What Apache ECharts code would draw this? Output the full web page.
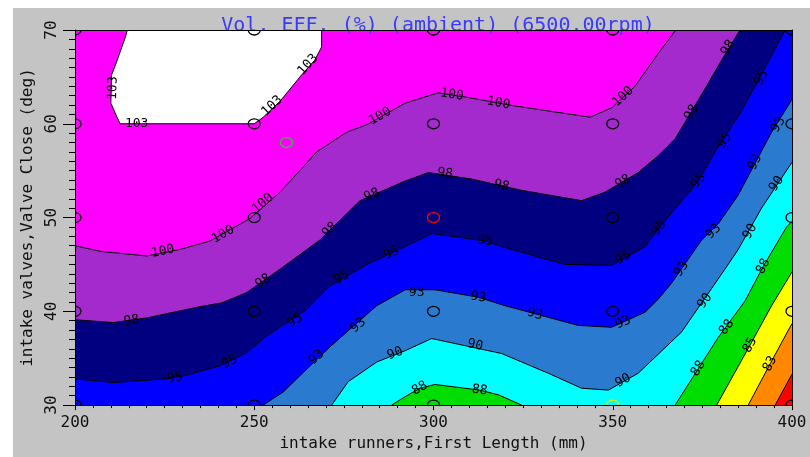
<!DOCTYPE html>
<html>
<head>
<meta charset="utf-8">
<script src="https://cdn.jsdelivr.net/npm/echarts@6/dist/echarts.min.js"></script>
<style>
  html, body { margin: 0; padding: 0; background: #fff; }
  #chart { width: 810px; height: 457px; }
</style>
</head>
<body>
<div id="chart"></div>
<script>
// contour lines, [runner length mm, valve close deg]
const line103 = [[214.6, 70], [214.1, 69.3], [211.6, 66.6], [210.2, 65.2], [210.0, 62.2], [211.6, 60.8], [212.6, 60.0], [250.0, 60.0], [252.5, 60.7], [257.2, 62.4], [263.2, 65.2], [266.9, 66.8], [268.8, 68.2], [268.8, 70]];
const line100 = [[200, 47.0], [207.0, 46.4], [220.0, 45.9], [229.3, 46.6], [237.7, 47.5], [248.8, 49.9], [257.2, 52.7], [263.2, 55.2], [267.4, 57.0], [275.8, 59.1], [281.4, 59.9], [292.1, 62.2], [301.3, 63.3], [309.7, 62.8], [322.7, 61.9], [343.7, 60.7], [349.7, 61.7], [356.2, 64.0], [362.7, 67.5], [367.6, 70]];
const line98 = [[200, 39.1], [210.7, 38.8], [220.0, 39.3], [234.9, 40.5], [240.9, 40.9], [247.9, 42.0], [257.2, 44.5], [268.3, 47.6], [279.5, 51.8], [292.1, 53.9], [298.6, 54.8], [310.7, 54.1], [324.6, 52.9], [341.3, 51.8], [347.8, 52.7], [357.1, 54.8], [362.7, 56.6], [367.4, 58.4], [375.7, 63.7], [380.4, 66.8], [385.5, 70]];
const line95 = [[200, 32.8], [210.7, 32.4], [225.6, 32.8], [231.2, 33.2], [240.4, 34.2], [247.9, 35.6], [253.5, 37.4], [259.1, 38.8], [264.6, 40.2], [271.1, 42.7], [281.4, 45.0], [292.1, 46.9], [299.5, 48.3], [314.4, 47.5], [319.9, 46.8], [336.7, 45.0], [349.7, 44.9], [359.0, 46.9], [363.6, 49.2], [373.9, 53.9], [378.5, 57.0], [385.0, 60.8], [389.7, 64.0], [398.1, 70]];
const line93 = [[252.5, 30], [258.1, 31.4], [265.6, 34.2], [271.1, 36.2], [276.7, 38.1], [284.2, 40.6], [292.1, 42.3], [300.4, 42.3], [312.5, 41.5], [319.9, 40.6], [340.4, 38.5], [349.7, 38.3], [359.0, 39.9], [362.7, 41.3], [366.4, 43.0], [374.8, 47.6], [379.4, 49.3], [385.0, 52.4], [394.3, 59.1], [400, 62.6]];
const line90 = [[271.6, 30], [276.2, 32.5], [284.2, 34.6], [292.1, 35.8], [299.5, 37.1], [319.0, 35.5], [332.0, 33.4], [341.3, 31.8], [348.8, 31.6], [357.1, 33.4], [361.8, 35.1], [369.2, 37.8], [381.3, 44.5], [385.0, 46.6], [391.5, 51.0], [400, 55.9]];
const line88a = [[288.3, 30], [292.1, 30.9], [296.2, 31.8], [300.4, 32.2], [312.9, 31.6], [318.1, 31.1], [324.6, 30]];
const line88b = [[367.4, 30], [373.9, 33.9], [379.4, 37.2], [386.9, 41.1], [392.0, 44.8], [398.5, 49.0], [400, 49.6]];
const line85 = [[379.0, 30], [388.3, 36.4], [394.3, 40.6], [400, 44.2]];
const line83 = [[387.8, 30], [393.9, 34.4], [400, 38.7]];
const line80 = [[395.3, 30], [400, 33.3]];

// where the level numbers sit on each line
const labels103 = [[210.6, 63.8], [217.2, 60.0], [255.0, 61.9], [265.0, 66.3]];
const labels100 = [[224.5, 46.4], [241.3, 48.2], [252.4, 51.5], [285.1, 60.8], [305.1, 63.1], [318.1, 62.2], [352.9, 62.9]];
const labels98 = [[215.8, 39.0], [252.5, 43.2], [271.1, 48.7], [282.8, 52.4], [303.2, 54.7], [319.0, 53.4], [352.9, 53.8], [372.0, 61.2], [382.2, 68.1]];
const labels95 = [[227.9, 32.9], [243.2, 34.6], [261.4, 39.0], [274.4, 43.6], [288.3, 46.2], [314.4, 47.5], [352.9, 45.7], [362.9, 48.9], [373.9, 53.9], [381.3, 58.2], [391.5, 64.9]];
const labels93 = [[267.4, 35.1], [279.0, 38.5], [295.3, 42.0], [312.5, 41.5], [328.3, 39.7], [352.9, 38.8], [369.2, 44.5], [378.1, 48.5], [389.7, 55.9], [396.2, 59.9]];
const labels90 = [[289.3, 35.5], [311.6, 36.4], [352.9, 32.6], [375.7, 41.1], [388.3, 48.5], [395.7, 53.6]];
const labels88 = [[296.2, 31.8], [312.9, 31.6], [373.9, 33.9], [381.8, 38.3], [392.0, 44.8]];
const labels85 = [[388.3, 36.4]];
const labels83 = [[393.9, 34.4]];

// measurement points
const runLengths = [200, 250, 300, 350, 400];
const valveCloses = [30, 40, 50, 60, 70];
const redPoints = [[300, 50]];
const yellowPoints = [[350, 30]];
const greenPoints = [[259, 58]];

const mono = "'DejaVu Sans Mono', monospace";

const contours = [
  { text: "103", lines: [line103], labels: labels103 },
  { text: "100", lines: [line100], labels: labels100 },
  { text: "98", lines: [line98], labels: labels98 },
  { text: "95", lines: [line95], labels: labels95 },
  { text: "93", lines: [line93], labels: labels93 },
  { text: "90", lines: [line90], labels: labels90 },
  { text: "88", lines: [line88a, line88b], labels: labels88 },
  { text: "85", lines: [line85], labels: labels85 },
  { text: "83", lines: [line83], labels: labels83 },
  { text: "80", lines: [line80], labels: [] },
];

// region on the low side of a line, closed along the plot edges
function below(line) {
  const poly = line.slice();
  const last = line[line.length - 1];
  const first = line[0];
  if (last[1] === 70) poly.push([400, 70], [400, 30]);
  else if (last[0] === 400) poly.push([400, 30]);
  if (first[0] === 200 && first[1] > 30) poly.push([200, 30]);
  return poly;
}

const bands = [
  { poly: line103, color: "#ffffff" },
  { poly: below(line100), color: "#a52acd" },
  { poly: below(line98), color: "#000080" },
  { poly: below(line95), color: "#0000ff" },
  { poly: below(line93), color: "#2a7ad0" },
  { poly: below(line90), color: "#00ffff" },
  { poly: line88a, color: "#00dd00" },
  { poly: below(line88b), color: "#00dd00" },
  { poly: below(line85), color: "#ffff00" },
  { poly: below(line83), color: "#ff8800" },
  { poly: below(line80), color: "#ff0000" },
];

const labelItems = [];
contours.forEach((c) => c.labels.forEach((p) => labelItems.push({ pos: p, text: c.text, lines: c.lines })));

const markers = [];
runLengths.forEach((x) => valveCloses.forEach((y) => {
  const special = redPoints.concat(yellowPoints).some((p) => p[0] === x && p[1] === y);
  if (!special) markers.push({ pos: [x, y], color: "#000" });
}));
redPoints.forEach((p) => markers.push({ pos: p, color: "#ff0000" }));
yellowPoints.forEach((p) => markers.push({ pos: p, color: "#e8e800" }));
greenPoints.forEach((p) => markers.push({ pos: p, color: "#22cc22" }));

function segDist(p, a, b) {
  const dx = b[0] - a[0], dy = b[1] - a[1];
  const len = dx * dx + dy * dy || 1;
  let t = ((p[0] - a[0]) * dx + (p[1] - a[1]) * dy) / len;
  t = Math.max(0, Math.min(1, t));
  const x = a[0] + t * dx - p[0], y = a[1] + t * dy - p[1];
  return Math.sqrt(x * x + y * y);
}

function renderBand(params, api) {
  const b = bands[params.dataIndex];
  return {
    type: "polygon",
    shape: { points: b.poly.map((p) => api.coord(p)) },
    style: { fill: b.color },
  };
}

function renderLabel(params, api) {
  const it = labelItems[params.dataIndex];
  const p = api.coord(it.pos);
  let best = Infinity, ang = 0;
  it.lines.forEach((line) => {
    const pts = line.map((q) => api.coord(q));
    for (let i = 0; i < pts.length - 1; i++) {
      const d = segDist(p, pts[i], pts[i + 1]);
      if (d < best) {
        best = d;
        ang = Math.atan2(pts[i + 1][1] - pts[i][1], pts[i + 1][0] - pts[i][0]);
      }
    }
  });
  if (ang > Math.PI / 2) ang -= Math.PI;
  if (ang < -Math.PI / 2) ang += Math.PI;
  return {
    type: "text",
    x: p[0],
    y: p[1],
    rotation: -ang,
    style: { text: it.text, fill: "#000", fontSize: 13, fontFamily: mono, align: "center", verticalAlign: "middle" },
  };
}

function renderMarker(params, api) {
  const m = markers[params.dataIndex];
  const p = api.coord(m.pos);
  return {
    type: "ellipse",
    shape: { cx: p[0], cy: p[1], rx: 6, ry: 5 },
    style: { fill: "none", stroke: m.color, lineWidth: 1.3 },
  };
}

const lineSeries = [];
contours.forEach((c) => c.lines.forEach((line) => {
  lineSeries.push({
    type: "line", data: line, symbol: "none", silent: true, z: 3,
    lineStyle: { color: "#000", width: 1 },
  });
}));

const chart = echarts.init(document.getElementById("chart"));
chart.setOption({
  animation: false,
  backgroundColor: "#fff",
  graphic: {
    elements: [{ type: "rect", left: 13, top: 8, z: -100, shape: { width: 797, height: 449 }, style: { fill: "#c4c4c4" } }],
  },
  title: {
    text: "Vol. EFF. (%) (ambient) (6500.00rpm)",
    left: 433, top: 11, textAlign: "center",
    textStyle: { color: "#3a3aff", fontFamily: mono, fontSize: 20, fontWeight: "normal" },
  },
  grid: { left: 75, top: 30, width: 717, height: 378, show: true, backgroundColor: "#ff00ff", borderWidth: 0 },
  xAxis: [{
    type: "value", min: 200, max: 400, interval: 50, z: 10,
    axisLine: { show: true, onZero: false, lineStyle: { color: "#000", width: 1 } },
    axisTick: { show: true, length: 5, lineStyle: { color: "#000" } },
    minorTick: { show: true, splitNumber: 10, length: 3, lineStyle: { color: "#000" } },
    splitLine: { show: false },
    axisLabel: { color: "#111", fontFamily: mono, fontSize: 16, margin: 10 },
    name: "intake runners,First Length (mm)", nameLocation: "middle", nameGap: 28,
    nameTextStyle: { color: "#111", fontFamily: mono, fontSize: 16 },
  }, {
    type: "value", position: "top", min: 200, max: 400, z: 10,
    axisLine: { show: true, lineStyle: { color: "#000", width: 1 } },
    axisTick: { show: false }, axisLabel: { show: false }, splitLine: { show: false },
  }],
  yAxis: [{
    type: "value", min: 30, max: 70, interval: 10, z: 10,
    axisLine: { show: true, onZero: false, lineStyle: { color: "#000", width: 1 } },
    axisTick: { show: true, length: 12, lineStyle: { color: "#000" } },
    minorTick: { show: true, splitNumber: 10, length: 6, lineStyle: { color: "#000" } },
    splitLine: { show: false },
    axisLabel: { color: "#111", fontFamily: mono, fontSize: 16, margin: 15, rotate: 90 },
    name: "intake valves,Valve Close (deg)", nameLocation: "middle", nameGap: 34,
    nameTextStyle: { color: "#111", fontFamily: mono, fontSize: 16 },
  }, {
    type: "value", position: "right", min: 30, max: 70, z: 10,
    axisLine: { show: true, lineStyle: { color: "#000", width: 1 } },
    axisTick: { show: false }, axisLabel: { show: false }, splitLine: { show: false },
  }],
  series: [
    {
      type: "custom", data: bands.map((b) => b.poly[0]), renderItem: renderBand,
      clip: true, silent: true, z: 1,
    },
    ...lineSeries,
    {
      type: "custom", data: labelItems.map((it) => it.pos), renderItem: renderLabel,
      clip: true, silent: true, z: 4,
    },
    {
      type: "custom", data: markers.map((m) => m.pos), renderItem: renderMarker,
      clip: true, silent: true, z: 5,
    },
  ],
});
</script>
</body>
</html>
